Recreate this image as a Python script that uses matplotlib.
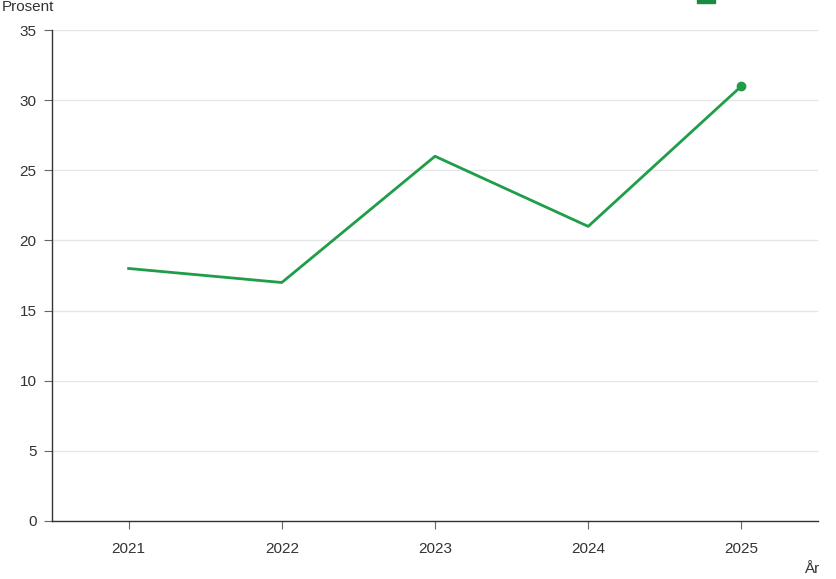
import matplotlib.pyplot as plt
from matplotlib.patches import Rectangle

years = [2021, 2022, 2023, 2024, 2025]
values = [18, 17, 26, 21, 31]
yticks = [0, 5, 10, 15, 20, 25, 30, 35]

green = '#1f9d48'
axis_col = '#333333'

plt.rcParams['font.family'] = ['Liberation Sans', 'DejaVu Sans']

fig = plt.figure(figsize=(8.37, 5.79), dpi=100)
ax = fig.add_axes([52/837, 58/579, 766/837, 491/579])

ax.plot(years, values, color=green, lw=2, zorder=3)
ax.plot(years[-1], values[-1], 'o', color=green, ms=6, zorder=4)

ax.set_xlim(2020.5, 2025.5)
ax.set_ylim(0, 35)
ax.set_xticks(years)
ax.set_xticklabels([str(y) for y in years])
ax.set_yticks(yticks)
ax.grid(axis='y', color='#e6e6e6', lw=1)
ax.set_axisbelow(True)

for s in ['top', 'right']:
    ax.spines[s].set_visible(False)
for s in ['left', 'bottom']:
    ax.spines[s].set_color(axis_col)
    ax.spines[s].set_linewidth(1)
ax.tick_params(length=6, color='#666666', labelsize=11, labelcolor=axis_col)
ax.tick_params(axis='x', pad=9)
ax.tick_params(axis='y', pad=5)

fig.text(2/837, 1 - 7/579, 'Prosent', fontsize=11, color=axis_col, va='center', ha='left')
fig.text(819/837, 1 - 569/579, 'År', fontsize=11, color=axis_col, va='center', ha='right')

# legend marker, mostly cut off at the top edge
fig.patches.append(Rectangle((697/837, 1 - 2.5/579), 18/837, 6/579,
                             transform=fig.transFigure, color='#1a8a44'))

plt.savefig('out.png', dpi=100)
